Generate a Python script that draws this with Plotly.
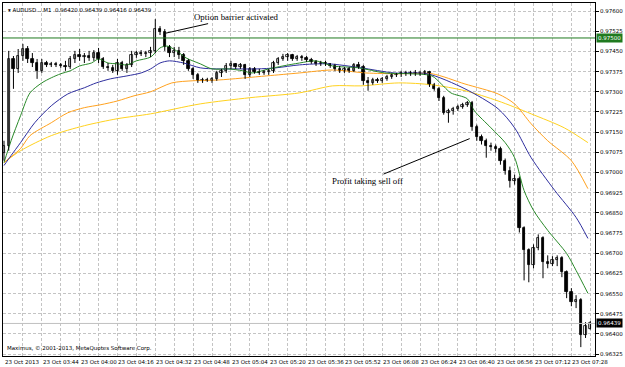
import plotly.graph_objects as go

# ---------------- data ----------------
# AUDUSD, 2-minute bars starting 23 Oct 2013 03:28 (x = minutes after 03:28)
bar_minutes = list(range(0, 250, 2))

opens = [0.97074,0.97100,0.97422,0.97385,0.97433,0.97459,0.97422,0.97407,0.97378,0.97407,
         0.97400,0.97404,0.97400,0.97396,0.97392,0.97422,0.97437,0.97429,0.97433,0.97426,
         0.97444,0.97422,0.97392,0.97389,0.97378,0.97407,0.97385,0.97400,0.97437,0.97444,
         0.97441,0.97444,0.97452,0.97533,0.97522,0.97467,0.97444,0.97452,0.97437,0.97415,
         0.97385,0.97363,0.97341,0.97344,0.97341,0.97348,0.97370,0.97378,0.97396,0.97404,
         0.97392,0.97400,0.97363,0.97385,0.97374,0.97370,0.97374,0.97378,0.97407,0.97422,
         0.97429,0.97437,0.97422,0.97429,0.97426,0.97418,0.97411,0.97404,0.97407,0.97404,
         0.97396,0.97385,0.97378,0.97385,0.97378,0.97400,0.97392,0.97341,0.97333,0.97344,
         0.97341,0.97348,0.97355,0.97363,0.97367,0.97370,0.97367,0.97370,0.97367,0.97370,
         0.97374,0.97326,0.97311,0.97278,0.97222,0.97229,0.97237,0.97244,0.97252,0.97259,
         0.97170,0.97133,0.97118,0.97100,0.97096,0.97089,0.97044,0.97007,0.96970,0.96977,
         0.96792,0.96711,0.96655,0.96718,0.96755,0.96667,0.96659,0.96674,0.96681,0.96629,
         0.96555,0.96518,0.96525,0.96396,0.96420]
highs = [0.97118,0.97452,0.97433,0.97459,0.97478,0.97470,0.97444,0.97422,0.97422,0.97415,
         0.97411,0.97411,0.97407,0.97415,0.97433,0.97452,0.97459,0.97444,0.97452,0.97455,
         0.97463,0.97429,0.97407,0.97400,0.97422,0.97415,0.97407,0.97452,0.97452,0.97455,
         0.97452,0.97467,0.97570,0.97544,0.97533,0.97474,0.97467,0.97467,0.97444,0.97422,
         0.97392,0.97370,0.97352,0.97352,0.97355,0.97378,0.97385,0.97407,0.97415,0.97407,
         0.97407,0.97404,0.97392,0.97392,0.97385,0.97381,0.97385,0.97415,0.97429,0.97441,
         0.97444,0.97441,0.97437,0.97437,0.97433,0.97426,0.97418,0.97415,0.97415,0.97407,
         0.97404,0.97396,0.97392,0.97392,0.97407,0.97411,0.97400,0.97355,0.97352,0.97352,
         0.97355,0.97363,0.97367,0.97370,0.97378,0.97378,0.97378,0.97381,0.97378,0.97381,
         0.97378,0.97333,0.97318,0.97285,0.97237,0.97244,0.97252,0.97259,0.97266,0.97266,
         0.97178,0.97141,0.97126,0.97111,0.97104,0.97096,0.97052,0.97022,0.96992,0.96985,
         0.96800,0.96718,0.96733,0.96770,0.96763,0.96692,0.96689,0.96692,0.96689,0.96636,
         0.96570,0.96544,0.96533,0.96444,0.96448]
lows = [0.97044,0.97081,0.97311,0.97370,0.97415,0.97407,0.97392,0.97348,0.97370,0.97392,
        0.97392,0.97392,0.97389,0.97378,0.97385,0.97407,0.97415,0.97407,0.97415,0.97415,
        0.97407,0.97385,0.97378,0.97370,0.97363,0.97378,0.97370,0.97392,0.97426,0.97433,
        0.97429,0.97429,0.97444,0.97511,0.97452,0.97429,0.97429,0.97422,0.97400,0.97378,
        0.97348,0.97333,0.97333,0.97337,0.97333,0.97341,0.97355,0.97370,0.97385,0.97385,
        0.97385,0.97348,0.97355,0.97367,0.97363,0.97363,0.97363,0.97370,0.97400,0.97415,
        0.97415,0.97415,0.97415,0.97415,0.97411,0.97404,0.97396,0.97396,0.97396,0.97389,
        0.97378,0.97370,0.97370,0.97370,0.97374,0.97385,0.97326,0.97304,0.97326,0.97333,
        0.97333,0.97341,0.97348,0.97355,0.97355,0.97359,0.97359,0.97359,0.97359,0.97363,
        0.97318,0.97304,0.97266,0.97215,0.97185,0.97215,0.97229,0.97237,0.97244,0.97155,
        0.97118,0.97104,0.97055,0.97081,0.97074,0.97029,0.96992,0.96944,0.96955,0.96777,
        0.96599,0.96592,0.96644,0.96711,0.96607,0.96644,0.96652,0.96652,0.96611,0.96533,
        0.96503,0.96496,0.96351,0.96385,0.96416]
closes = [0.97100,0.97422,0.97385,0.97433,0.97459,0.97422,0.97407,0.97378,0.97407,0.97400,
          0.97404,0.97400,0.97396,0.97392,0.97422,0.97437,0.97429,0.97433,0.97426,0.97444,
          0.97422,0.97392,0.97389,0.97378,0.97407,0.97385,0.97400,0.97437,0.97444,0.97441,
          0.97444,0.97452,0.97533,0.97522,0.97467,0.97444,0.97452,0.97437,0.97415,0.97385,
          0.97363,0.97341,0.97344,0.97341,0.97348,0.97370,0.97378,0.97396,0.97404,0.97392,
          0.97400,0.97363,0.97385,0.97374,0.97370,0.97374,0.97378,0.97407,0.97422,0.97429,
          0.97437,0.97422,0.97429,0.97426,0.97418,0.97411,0.97404,0.97407,0.97404,0.97396,
          0.97385,0.97378,0.97385,0.97378,0.97400,0.97392,0.97341,0.97333,0.97344,0.97341,
          0.97348,0.97355,0.97363,0.97367,0.97370,0.97367,0.97370,0.97367,0.97370,0.97374,
          0.97326,0.97311,0.97278,0.97222,0.97229,0.97237,0.97244,0.97252,0.97259,0.97170,
          0.97133,0.97118,0.97100,0.97096,0.97089,0.97044,0.97007,0.96970,0.96977,0.96792,
          0.96711,0.96655,0.96718,0.96755,0.96667,0.96659,0.96674,0.96681,0.96629,0.96555,
          0.96518,0.96525,0.96396,0.96429,0.96439]

# moving averages
ma_fast_t = [0,3,7,11,16,20,24,28,32,37,40,44,48,52,56,62,66,69,73,77,83,88,95,101,105,112,118,
             125,132,139,150,161,172,181,185,189,196,199,206,212,216,220,224,230,238,242,247]
ma_fast = [0.97037,0.97118,0.97211,0.97296,0.97333,0.97352,0.97367,0.97378,0.97396,0.97407,0.97422,
           0.97407,0.97404,0.97400,0.97415,0.97429,0.97463,0.97470,0.97452,0.97426,0.97404,0.97385,
           0.97385,0.97378,0.97370,0.97385,0.97396,0.97407,0.97415,0.97396,0.97389,0.97370,0.97367,
           0.97359,0.97329,0.97296,0.97274,0.97229,0.97166,0.97111,0.97055,0.96933,0.96859,0.96785,
           0.96699,0.96636,0.96551]
ma_mid_t = [0,3,7,13,20,27,34,39,45,52,58,62,66,70,76,83,90,98,107,115,125,137,151,165,179,195,
            209,216,223,233,242,247]
ma_mid = [0.97026,0.97063,0.97111,0.97185,0.97248,0.97292,0.97315,0.97333,0.97348,0.97359,0.97370,
          0.97385,0.97407,0.97415,0.97407,0.97389,0.97385,0.97385,0.97385,0.97389,0.97400,0.97404,
          0.97389,0.97370,0.97367,0.97311,0.97237,0.97166,0.97055,0.96933,0.96833,0.96755]
ma_slow_t = [0,7,11,20,27,34,41,48,55,62,71,80,91,111,125,139,153,167,181,195,209,216,223,230,240,247]
ma_slow = [0.97037,0.97089,0.97137,0.97185,0.97222,0.97241,0.97252,0.97266,0.97285,0.97300,0.97333,
           0.97341,0.97344,0.97359,0.97370,0.97381,0.97370,0.97367,0.97367,0.97329,0.97292,0.97255,
           0.97181,0.97118,0.97044,0.96940]
ma_long_t = [0,7,20,34,48,62,83,104,125,139,151,167,181,195,209,223,237,247]
ma_long = [0.97037,0.97081,0.97137,0.97174,0.97200,0.97218,0.97255,0.97278,0.97296,0.97322,0.97322,
           0.97333,0.97326,0.97304,0.97266,0.97218,0.97166,0.97111]

label_minutes = [0, 16, 32, 48, 64, 80, 96, 112, 128, 144, 160, 176, 192, 208, 224, 240]
label_texts = ["23 Oct 2013", "23 Oct 03:44", "23 Oct 04:00", "23 Oct 04:16", "23 Oct 04:32",
               "23 Oct 04:48", "23 Oct 05:04", "23 Oct 05:20", "23 Oct 05:36", "23 Oct 05:52",
               "23 Oct 06:08", "23 Oct 06:24", "23 Oct 06:40", "23 Oct 06:56", "23 Oct 07:12",
               "23 Oct 07:28"]

barrier_level = 0.97500
last_price = closes[-1]
header = "\u25be AUDUSD....M1  0.96420 0.96439 0.96416 0.96439"

# annotated events: (minute, price)
barrier_event = (68.5, 0.97518)
selloff_event = (197, 0.97126)

# ---------------- figure ----------------
TICKFONT = dict(family="DejaVu Sans", size=5.5, color="#000000")
GRID = "#c4c4c4"

fig = go.Figure()

for t, y, col in [(ma_long_t, ma_long, "#ffd21f"), (ma_slow_t, ma_slow, "#ffa21f"),
                  (ma_mid_t, ma_mid, "#2e2e9e"), (ma_fast_t, ma_fast, "#2a8a2a")]:
    fig.add_trace(go.Scatter(x=t, y=y, mode="lines", line=dict(color=col, width=1, shape="spline", smoothing=0.8),
                             hoverinfo="skip", showlegend=False))

# candle wicks
wick_x, wick_y = [], []
for t, h, l in zip(bar_minutes, highs, lows):
    wick_x += [t, t, None]
    wick_y += [l, h, None]
fig.add_trace(go.Scatter(x=wick_x, y=wick_y, mode="lines", line=dict(color="#000000", width=1),
                         hoverinfo="skip", showlegend=False))

# candle bodies
body_base = [min(o, c) for o, c in zip(opens, closes)]
body_size = [max(abs(c - o), 0.000012) for o, c in zip(opens, closes)]
body_fill = ["#ffffff" if c >= o else "#000000" for o, c in zip(opens, closes)]
fig.add_trace(go.Bar(x=bar_minutes, y=body_size, base=body_base, width=1.0,
                     marker=dict(color=body_fill, line=dict(color="#000000", width=0.8)),
                     hoverinfo="skip", showlegend=False))

fig.add_hline(y=barrier_level, line=dict(color="#1f7a1f", width=1))
fig.add_hline(y=last_price, line=dict(color="#c0c0c0", width=1))

annotations = []
for m, txt in zip(label_minutes, label_texts):
    annotations.append(dict(x=m, y=0, xref="x", yref="paper", text=txt, showarrow=False,
                            xanchor="left", yanchor="top", xshift=-1, yshift=-1, font=TICKFONT))
annotations += [
    dict(x=1, y=barrier_level, xref="paper", yref="y", text="0.97500", showarrow=False,
         xanchor="left", yanchor="middle", xshift=1, bgcolor="#1f7a1f",
         font=dict(family="DejaVu Sans", size=5.5, color="#ffffff"), borderpad=1),
    dict(x=1, y=last_price, xref="paper", yref="y", text="0.96439", showarrow=False,
         xanchor="left", yanchor="middle", xshift=1, bgcolor="#000000",
         font=dict(family="DejaVu Sans", size=5.5, color="#ffffff"), borderpad=1),
    dict(x=0, y=1, xref="paper", yref="paper", text=header, showarrow=False,
         xanchor="left", yanchor="top", xshift=3, yshift=-2, font=TICKFONT),
    dict(x=0, y=0, xref="paper", yref="paper", text="Maximus, \u00a9 2001-2013, MetaQuotes Software Corp.",
         showarrow=False, xanchor="left", yanchor="bottom", xshift=2, yshift=2, font=TICKFONT),
    dict(x=barrier_event[0], y=barrier_event[1], xref="x", yref="y", text="Option barrier activated",
         showarrow=True, arrowhead=0, arrowwidth=1, arrowcolor="#000000", ax=71, ay=-16,
         font=dict(family="Liberation Serif", size=8.8, color="#000000")),
    dict(x=selloff_event[0], y=selloff_event[1], xref="x", yref="y", text="Profit taking sell off",
         showarrow=True, arrowhead=0, arrowwidth=1, arrowcolor="#000000", ax=-102, ay=42,
         font=dict(family="Liberation Serif", size=8.8, color="#000000")),
]

fig.update_layout(
    width=625, height=367,
    margin=dict(l=2, r=27, t=2, b=11),
    paper_bgcolor="#ffffff", plot_bgcolor="#ffffff",
    annotations=annotations, bargap=0,
    xaxis=dict(range=[-0.42, 250], tickmode="linear", tick0=0, dtick=8, showticklabels=False,
               showgrid=True, gridcolor=GRID, griddash="3px,2px", gridwidth=1,
               showline=True, linecolor="#000000", linewidth=1, mirror=True,
               zeroline=False, fixedrange=True),
    yaxis=dict(range=[0.96318, 0.97630], side="right", tickmode="linear", tick0=0.96325, dtick=0.00075,
               tickformat=".5f", tickfont=TICKFONT, ticks="outside", ticklen=3, tickcolor="#000000",
               showgrid=True, gridcolor=GRID, griddash="3px,2px", gridwidth=1,
               showline=True, linecolor="#000000", linewidth=1, mirror=True, zeroline=False),
)

fig.write_html("out.html")
